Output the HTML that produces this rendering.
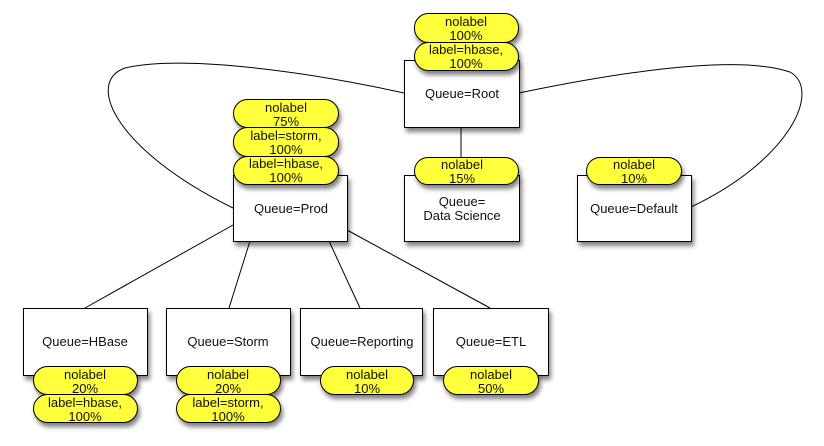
<!DOCTYPE html>
<html><head><meta charset="utf-8"><style>
html,body{margin:0;padding:0;background:#fff}
svg{display:block}
text{font-family:"Liberation Sans",sans-serif;font-size:13px;fill:#111;text-anchor:middle}
</style></head><body>
<svg width="824" height="446" viewBox="0 0 824 446" xmlns="http://www.w3.org/2000/svg">
<defs>
<filter id="sh" x="-20%" y="-20%" width="150%" height="160%">
<feGaussianBlur in="SourceAlpha" stdDeviation="2.5"/>
<feOffset dx="2" dy="4" result="b"/>
<feComponentTransfer><feFuncA type="linear" slope="0.5"/></feComponentTransfer>
<feMerge><feMergeNode/><feMergeNode in="SourceGraphic"/></feMerge>
</filter>
</defs>
<g fill="none" stroke="#000" stroke-width="1">
<path d="M404,93 C300,70 180,55 125,68 C85,82 115,150 233,208"/>
<path d="M519,93 C630,70 740,55 790,72 C822,90 790,160 691,207"/>
<line x1="461" y1="127" x2="461" y2="175"/>
<line x1="233" y1="225" x2="85" y2="308"/>
<line x1="250" y1="241" x2="229" y2="308"/>
<line x1="329" y1="241" x2="360" y2="308"/>
<line x1="347" y1="230" x2="490" y2="308"/>
</g>
<g fill="#fff" stroke="#000" stroke-width="1" filter="url(#sh)">
<rect x="404.5" y="60.5" width="115" height="67"/>
<rect x="233.5" y="175.5" width="114" height="66"/>
<rect x="404.5" y="175.5" width="115" height="66"/>
<rect x="577.5" y="175.5" width="114" height="66"/>
<rect x="23.5" y="308.5" width="124" height="67"/>
<rect x="166.5" y="308.5" width="124" height="67"/>
<rect x="300.5" y="308.5" width="122" height="67"/>
<rect x="433.5" y="308.5" width="115" height="67"/>
</g>
<g fill="#ffff3a" stroke="#000" stroke-width="1" filter="url(#sh)">
<rect x="414.5" y="13.5" width="104" height="29" rx="14"/>
<rect x="414.5" y="42.5" width="104" height="28" rx="14"/>
<rect x="233.5" y="99.5" width="105" height="28" rx="14"/>
<rect x="233.5" y="127.5" width="105" height="29" rx="14"/>
<rect x="233.5" y="156.5" width="105" height="28" rx="14"/>
<rect x="414.5" y="157.5" width="104" height="27" rx="13.5"/>
<rect x="586.5" y="157.5" width="95" height="27" rx="13.5"/>
<rect x="33.5" y="366.5" width="104" height="28" rx="14"/>
<rect x="33.5" y="394.5" width="104" height="28" rx="14"/>
<rect x="176.5" y="366.5" width="104" height="28" rx="14"/>
<rect x="176.5" y="394.5" width="104" height="28" rx="14"/>
<rect x="320.5" y="366.5" width="93" height="28" rx="14"/>
<rect x="443.5" y="366.5" width="95" height="28" rx="14"/>
</g>
<text x="466" y="26">nolabel</text><text x="466" y="40">100%</text>
<text x="466" y="54">label=hbase,</text><text x="466" y="68">100%</text>
<text x="462" y="98">Queue=Root</text>
<text x="286" y="112">nolabel</text><text x="286" y="126">75%</text>
<text x="286" y="140">label=storm,</text><text x="286" y="154">100%</text>
<text x="286" y="168">label=hbase,</text><text x="286" y="182">100%</text>
<text x="291" y="213">Queue=Prod</text>
<text x="462" y="169">nolabel</text><text x="462" y="183">15%</text>
<text x="462" y="206">Queue=</text><text x="462" y="220">Data Science</text>
<text x="634" y="169">nolabel</text><text x="634" y="183">10%</text>
<text x="634" y="213">Queue=Default</text>
<text x="85" y="346">Queue=HBase</text>
<text x="85" y="379">nolabel</text><text x="85" y="393">20%</text>
<text x="85" y="407">label=hbase,</text><text x="85" y="421">100%</text>
<text x="228" y="346">Queue=Storm</text>
<text x="228" y="379">nolabel</text><text x="228" y="393">20%</text>
<text x="228" y="407">label=storm,</text><text x="228" y="421">100%</text>
<text x="362" y="346">Queue=Reporting</text>
<text x="367" y="379">nolabel</text><text x="367" y="393">10%</text>
<text x="491" y="346">Queue=ETL</text>
<text x="491" y="379">nolabel</text><text x="491" y="393">50%</text>
</svg>
</body></html>
